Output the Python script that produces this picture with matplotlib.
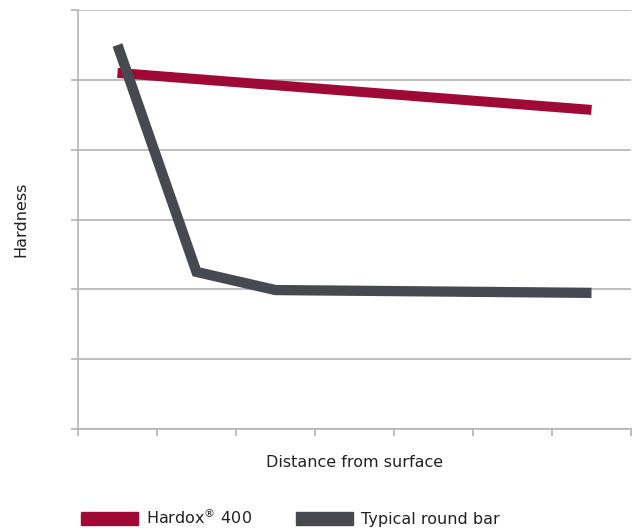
import matplotlib.pyplot as plt
from matplotlib.patches import Patch

# positions along the surface-depth axis (tick units), hardness (grid units)
hardox_x = [0.5, 6.5]
hardox_y = [5.1, 4.57]
round_x = [0.5, 1.5, 2.5, 6.5]
round_y = [5.5, 2.25, 1.99, 1.95]

red = '#9E0A35'
dark = '#464950'
grid_c = '#B4B4B8'
txt = '#222222'

fig = plt.figure(figsize=(6.37, 5.29), dpi=100)
ax = fig.add_axes([0.1224, 0.189, 0.8682, 0.792])

ax.plot(hardox_x, hardox_y, color=red, lw=7.2, solid_capstyle='butt', zorder=3)
ax.plot(round_x, round_y, color=dark, lw=7.4, solid_capstyle='butt',
        solid_joinstyle='miter', zorder=4)

ax.set_xlim(0, 7)
ax.set_ylim(0, 6)
ax.set_xticks(range(8))
ax.set_yticks(range(7))
ax.set_xticklabels([])
ax.set_yticklabels([])
ax.tick_params(axis='both', direction='out', length=5, width=1.2, color=grid_c)
ax.yaxis.grid(True, color=grid_c, lw=1.2)
ax.set_axisbelow(True)
for s in ['top', 'right']:
    ax.spines[s].set_visible(False)
for s in ['left', 'bottom']:
    ax.spines[s].set_color(grid_c)
    ax.spines[s].set_linewidth(1.2)

ax.set_xlabel('Distance from surface', fontsize=11.5, color=txt, labelpad=10)
ax.set_ylabel('Hardness', fontsize=11.5, color=txt, labelpad=27)

handles = [Patch(color=red), Patch(color=dark)]
labels = [r'Hardox$^{\circledR}$ 400', 'Typical round bar']
fig.legend(handles, labels, loc='center left', bbox_to_anchor=(0.127, 0.0227),
           ncol=2, frameon=False, fontsize=11.5, handlelength=3.6,
           handleheight=0.9, handletextpad=0.5, columnspacing=2.7,
           borderpad=0, borderaxespad=0, labelcolor=txt)

fig.savefig('out.png', dpi=100)
